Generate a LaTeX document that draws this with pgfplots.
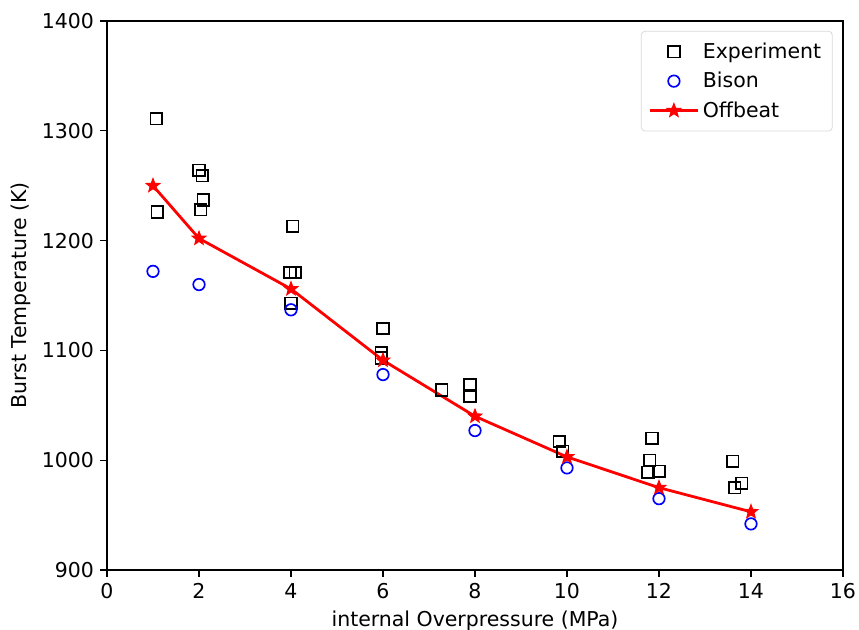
\documentclass[border=0pt]{standalone}
\usepackage{pgfplots}
\pgfplotsset{compat=1.18}
\usepackage{fontspec}
\setmainfont{DejaVu Sans}
\pgfdeclareplotmark{fivestar}{%
  \pgfpathmoveto{\pgfqpointpolar{90}{\pgfplotmarksize}}%
  \pgfpathlineto{\pgfqpointpolar{126}{0.42\pgfplotmarksize}}%
  \pgfpathlineto{\pgfqpointpolar{162}{\pgfplotmarksize}}%
  \pgfpathlineto{\pgfqpointpolar{198}{0.42\pgfplotmarksize}}%
  \pgfpathlineto{\pgfqpointpolar{234}{\pgfplotmarksize}}%
  \pgfpathlineto{\pgfqpointpolar{270}{0.42\pgfplotmarksize}}%
  \pgfpathlineto{\pgfqpointpolar{306}{\pgfplotmarksize}}%
  \pgfpathlineto{\pgfqpointpolar{342}{0.42\pgfplotmarksize}}%
  \pgfpathlineto{\pgfqpointpolar{18}{\pgfplotmarksize}}%
  \pgfpathlineto{\pgfqpointpolar{54}{0.42\pgfplotmarksize}}%
  \pgfpathclose
  \pgfusepathqfillstroke}
\begin{document}
\begin{tikzpicture}
\useasboundingbox (-57.5pt,-32.2pt) rectangle (404.1pt,306.3pt);
\begin{axis}[
  scale only axis,
  width=395.5pt, height=295pt,
  xmin=0, xmax=16, ymin=900, ymax=1400,
  xtick={0,2,...,16}, ytick={900,1000,...,1400},
  tick align=outside, major tick length=3.5pt,
  xtick pos=bottom, ytick pos=left,
  tick style={black, line width=0.6pt},
  axis line style={line width=0.6pt},
  /pgf/number format/assume math mode=true,
  /pgf/number format/set thousands separator={},
  tick label style={font=\fontsize{11}{13}\selectfont},
  label style={font=\fontsize{11}{13}\selectfont},
  xlabel={internal Overpressure (MPa)},
  ylabel={Burst Temperature (K)},
  xlabel style={yshift=0pt},
  ylabel style={yshift=-1pt},
  legend style={at={(rel axis cs:0.986,0.982)}, anchor=north east,
    draw=black!15, rounded corners=2pt, fill=white,
    font=\fontsize{11}{13}\selectfont, row sep=2pt,
    inner xsep=4pt, inner ysep=4pt},
  legend cell align=left,
  legend image code/.code={\draw[mark repeat=2,mark phase=2,#1] plot coordinates {(0cm,0cm) (0.45cm,0cm) (0.9cm,0cm)};},
]
\addplot[only marks, mark=square, mark size=3.1pt, black, line width=0.9pt] coordinates {
(1.07,1311) (1.09,1226)
(2.0,1264) (2.07,1259) (2.09,1237) (2.04,1228)
(4.04,1213) (3.98,1171) (4.09,1171) (4.0,1143)
(6.0,1120) (5.96,1098) (5.96,1093)
(7.28,1064) (7.89,1069) (7.89,1058)
(9.83,1017) (9.91,1008)
(11.85,1020) (11.8,1000) (11.76,989) (12.0,990)
(13.6,999) (13.65,975) (13.8,979)
};
\addlegendentry{Experiment}
\addplot[only marks, mark=o, mark size=3.1pt, blue, line width=0.9pt] coordinates {
(1,1172) (2,1160) (4,1137) (6,1078) (8,1027) (10,993) (12,965) (14,942)
};
\addlegendentry{Bison}
\addplot[red, line width=1.5pt, mark=fivestar, mark size=3.9pt, mark options={fill=red, line width=0.5pt}] coordinates {
(1,1250) (2,1202) (4,1156) (6,1091) (8,1040) (10,1003) (12,975) (14,953)
};
\addlegendentry{Offbeat}
\end{axis}
\end{tikzpicture}
\end{document}
